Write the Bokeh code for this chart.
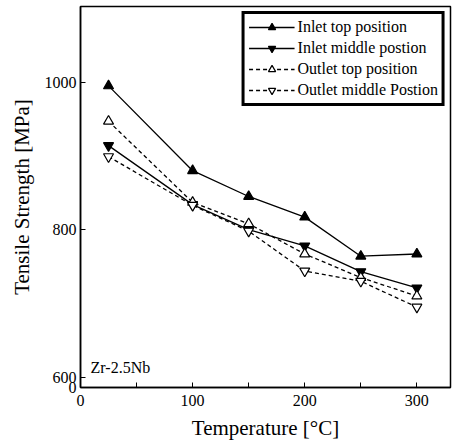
from bokeh.plotting import figure
from bokeh.models import FixedTicker, Legend, LegendItem, Label, Range1d, AllLabels
from bokeh.embed import file_html
from bokeh.resources import INLINE

# ---- data ----
temperature = [25, 100, 150, 200, 250, 300]
inlet_top = [995, 880, 845, 817, 764, 767]
inlet_middle = [914, 834, 800, 778, 743, 721]
outlet_top = [947, 837, 808, 767, 735, 710]
outlet_middle = [899, 833, 798, 744, 730, 695]

series_names = ["Inlet top position", "Inlet middle postion",
                "Outlet top position", "Outlet middle Postion"]
x_ticks = [0, 100, 200, 300]
x_minor = [50, 150, 250]
y_ticks = [586, 600, 800, 1000]
y_tick_labels = {586: "0", 600: "600", 800: "800", 1000: "1000"}

FONT = "Liberation Serif"

p = figure(width=453, height=447, output_backend="svg", toolbar_location=None,
           x_range=Range1d(0, 330), y_range=Range1d(586, 1102.6),
           min_border_left=80, min_border_right=3, min_border_top=6,
           min_border_bottom=60)

p.xgrid.visible = False
p.ygrid.visible = False
p.outline_line_color = "black"
p.outline_line_width = 1.5
p.outline_line_alpha = 1
p.background_fill_color = "white"
p.border_fill_color = "white"

for ax in (p.xaxis[0], p.yaxis[0]):
    ax.axis_line_width = 1.5
    ax.major_tick_in = 5
    ax.major_tick_out = 0
    ax.minor_tick_in = 5
    ax.minor_tick_out = 0
    ax.major_label_text_font = FONT
    ax.major_label_text_font_size = "16px"
    ax.major_label_text_color = "black"
    ax.major_label_policy = AllLabels()
    ax.axis_label_text_font = FONT
    ax.axis_label_text_font_size = "21px"
    ax.axis_label_text_font_style = "normal"
    ax.axis_label_text_color = "black"

p.xaxis.ticker = FixedTicker(ticks=x_ticks, minor_ticks=x_minor)
p.xaxis.axis_label = "Temperature [°C]"
p.xaxis.major_label_standoff = 7
p.xaxis.axis_label_standoff = 7

p.yaxis.ticker = FixedTicker(ticks=y_ticks, minor_ticks=[])
p.yaxis.major_label_overrides = y_tick_labels
p.yaxis.axis_label = "Tensile Strength [MPa]"
p.yaxis.major_label_standoff = 4
p.yaxis.axis_label_standoff = 8

styles = [
    (inlet_top, "solid", "triangle", "black"),
    (inlet_middle, "solid", "inverted_triangle", "black"),
    (outlet_top, "4 3", "triangle", "white"),
    (outlet_middle, "4 3", "inverted_triangle", "white"),
]

items = []
for name, (vals, dash, marker, fill) in zip(series_names, styles):
    r1 = p.line(temperature, vals, line_color="black", line_width=1.3, line_dash=dash)
    r2 = p.scatter(temperature, vals, marker=marker, size=10, line_color="black",
                   fill_color=fill, line_width=1.2)
    items.append(LegendItem(label=name, renderers=[r1, r2]))

legend = Legend(items=items, location="top_right")
legend.label_text_font = FONT
legend.label_text_font_size = "16px"
legend.label_text_color = "black"
legend.border_line_color = "black"
legend.border_line_alpha = 1
legend.border_line_width = 3
legend.glyph_width = 46
legend.glyph_height = 18
legend.label_height = 18
legend.spacing = 3
legend.padding = 4
legend.margin = 5
legend.label_standoff = 3
legend.background_fill_alpha = 1
p.add_layout(legend)

p.add_layout(Label(x=9, y=613, text="Zr-2.5Nb", text_font=FONT,
                   text_font_size="16px", text_baseline="middle", text_color="black"))

open("out.html", "w").write(file_html(p, INLINE))
